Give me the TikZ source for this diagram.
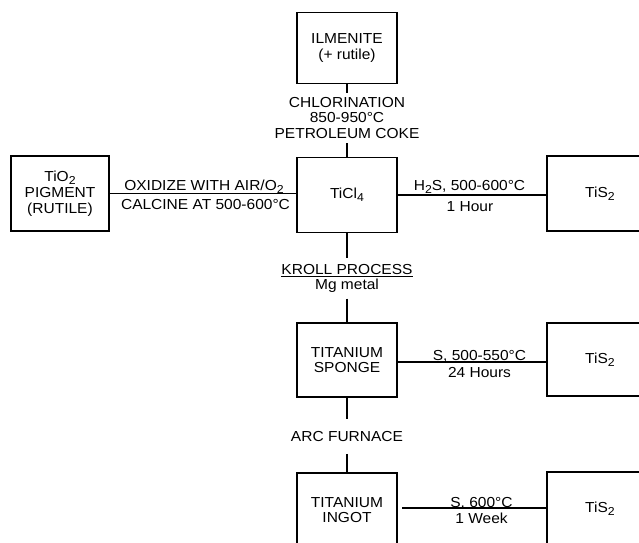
\documentclass[tikz,border=0pt]{standalone}
\usepackage{fontspec}
\setmainfont{Liberation Sans}[FakeStretch=1.07]
\newcommand\subs[1]{\raisebox{-3pt}{\fontsize{11.5}{11.5}\selectfont #1}}
\begin{document}
\begin{tikzpicture}[x=1pt,y=-1pt,
  every node/.style={font=\fontsize{14.5}{15.8}\selectfont, align=center},
  box/.style={draw, line width=1.1pt, minimum width=100pt, minimum height=75pt, inner sep=0pt},
  sidebox/.style={box, minimum width=106pt},
  lbl/.style={inner xsep=0pt},
  conn/.style={line width=1.1pt}]
\useasboundingbox (0,0) rectangle (639,542);
\clip (0,0) rectangle (639,542);
% main column
\node[box, minimum height=71pt] (ilm) at (347,48) {ILMENITE\\(+ rutile)};
\node[box] (ticl) at (347,195) {TiCl\subs{4}};
\node[box, minimum height=74pt] (sponge) at (347,360) {TITANIUM\\SPONGE};
\node[box, minimum height=74pt] (ingot) at (347,510) {TITANIUM\\INGOT};
% side boxes
\node[box, minimum width=98pt] (tio2) at (60,193.5) {TiO\subs{2}\\PIGMENT\\(RUTILE)};
\node[sidebox] (tisa) at (600,193.5) {TiS\subs{2}};
\node[sidebox, minimum height=73pt] (tisb) at (600,359.5) {TiS\subs{2}};
\node[sidebox, minimum height=74pt] (tisc) at (600,509) {TiS\subs{2}};
% vertical process labels
\node[lbl, inner ysep=4pt] (chlor) at (347,118) {CHLORINATION\\850-950°C\\PETROLEUM COKE};
\node[lbl, inner ysep=5.5pt] (kroll) at (347,278.5) {\underline{KROLL PROCESS}\\Mg metal};
\node[lbl, inner ysep=12pt] (arc) at (347,436.5) {ARC FURNACE};
% vertical connectors
\draw[conn] (ilm) -- (chlor);
\draw[conn] (chlor) -- (ticl);
\draw[conn] (ticl) -- (kroll);
\draw[conn] (kroll) -- (sponge);
\draw[conn] (sponge) -- (arc);
\draw[conn] (arc) -- (ingot);
% horizontal connectors
\draw[conn] (tio2.east) -- (tio2.east -| ticl.west);
\draw[conn] (ticl.east) -- (ticl.east -| tisa.west);
\coordinate (sa) at (397,362);
\draw[conn] (sa) -- (sa -| tisb.west);
\coordinate (sb) at (402,508);
\draw[conn] (sb) -- (sb -| tisc.west);
% horizontal labels
\node[lbl, anchor=base] (oxa) at (204,190.5) {OXIDIZE WITH AIR/O\subs{2}};
\node[lbl, anchor=base] (oxb) at (205.5,209.5) {CALCINE AT 500-600°C};
\node[lbl, anchor=base] (ha) at (469.5,190) {H\subs{2}S, 500-600°C};
\node[lbl, anchor=base] (hb) at (470,211) {1 Hour};
\node[lbl, anchor=base] (sa1) at (479.5,360) {S, 500-550°C};
\node[lbl, anchor=base] (sa2) at (479.5,377) {24 Hours};
\node[lbl, anchor=base] (sb1) at (481.5,507) {S, 600°C};
\node[lbl, anchor=base] (sb2) at (481.5,523) {1 Week};
\end{tikzpicture}
\end{document}
